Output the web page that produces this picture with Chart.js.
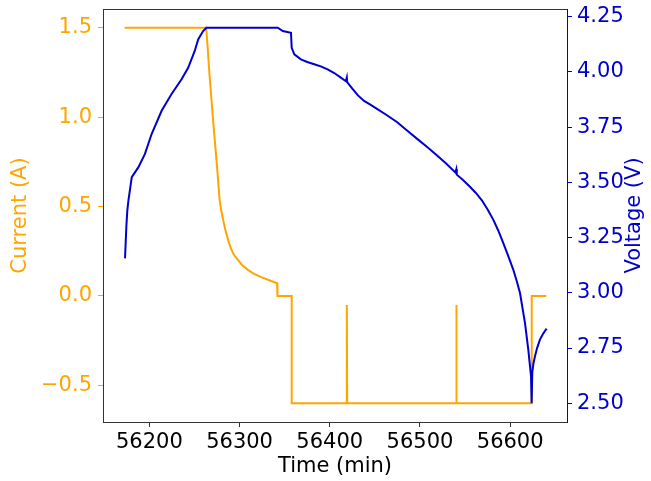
<!DOCTYPE html>
<html><head><meta charset="utf-8">
<script src="https://cdn.jsdelivr.net/npm/chart.js@4/dist/chart.umd.min.js"></script>
<style>html,body{margin:0;padding:0;background:#fff;} #wrap{width:651px;height:481px;}</style>
</head><body><div id="wrap"><canvas id="c" width="651" height="481"></canvas></div>
<script>
// ---- data ----
const currentTime = [56172.5, 56263, 56264.5, 56266.5, 56268.8, 56271.5, 56275, 56277.9, 56279.8, 56281.7, 56284.5, 56287.2, 56290, 56292.7, 56295.5, 56298.2, 56303, 56309.2, 56316, 56324, 56333, 56341.6, 56342, 56357.8, 56357.8, 56418.9, 56418.9, 56419.3, 56540.3, 56540.3, 56540.7, 56623.9, 56623.9, 56640];
const currentValues = [1.5, 1.5, 1.40, 1.25, 1.10, 0.93, 0.725, 0.539, 0.475, 0.427, 0.365, 0.315, 0.272, 0.240, 0.218, 0.202, 0.172, 0.146, 0.124, 0.105, 0.088, 0.071, 0.0, 0.0, -0.6, -0.6, -0.05, -0.6, -0.6, -0.05, -0.6, -0.6, 0.0, 0.0];
const voltageTime = [56173, 56174.5, 56175.5, 56176.8, 56180.5, 56187.9, 56195.1, 56202.5, 56213.6, 56224.6, 56235.7, 56243, 56250.3, 56254.1, 56259.6, 56263.2, 56342.4, 56347.9, 56357, 56357.8, 56360.7, 56368, 56375, 56382.8, 56390, 56397.6, 56405, 56412.3, 56417.8, 56418.9, 56419.3, 56425, 56431, 56438, 56445, 56452.8, 56463, 56474.8, 56485, 56496.9, 56508, 56519, 56529, 56539.2, 56540.3, 56540.8, 56548, 56555.7, 56562, 56568.6, 56575, 56581.5, 56587, 56592.5, 56598, 56603.5, 56607.5, 56610.9, 56616.4, 56620.1, 56623.1, 56623.8, 56624.5, 56625.8, 56627.5, 56630, 56633, 56636.5, 56640.4];
const voltageValues = [3.156, 3.30, 3.37, 3.419, 3.524, 3.569, 3.629, 3.719, 3.824, 3.900, 3.967, 4.019, 4.095, 4.147, 4.185, 4.2, 4.2, 4.185, 4.177, 4.109, 4.080, 4.057, 4.045, 4.035, 4.025, 4.012, 3.995, 3.974, 3.958, 3.975, 3.954, 3.925, 3.895, 3.869, 3.852, 3.832, 3.805, 3.772, 3.737, 3.697, 3.660, 3.622, 3.585, 3.545, 3.560, 3.535, 3.510, 3.479, 3.452, 3.419, 3.377, 3.329, 3.280, 3.224, 3.165, 3.104, 3.050, 2.999, 2.864, 2.743, 2.623, 2.5, 2.638, 2.680, 2.713, 2.752, 2.788, 2.815, 2.838];
const timeTicks = [56200, 56300, 56400, 56500, 56600];
const currentTicks = [-0.5, 0.0, 0.5, 1.0, 1.5];
const voltageTicks = [2.50, 2.75, 3.00, 3.25, 3.50, 3.75, 4.00, 4.25];

const ORANGE = '#FFA500';
const BLUE = '#0000CD';
const SPINE = '#333333';
const FONT = "'DejaVu Sans'";

Chart.defaults.font.family = FONT;
Chart.defaults.font.size = 21;

const fmt = (v, d) => (v < 0 ? '\u2212' : '') + Math.abs(v).toFixed(d);

const framePlugin = {
  id: 'frame',
  beforeDraw(chart) {
    const c = chart.ctx;
    c.save(); c.fillStyle = '#fff'; c.fillRect(0, 0, chart.width, chart.height); c.restore();
  },
  afterDraw(chart) {
    const c = chart.ctx, a = chart.chartArea;
    c.save();
    c.strokeStyle = SPINE; c.lineWidth = 1;
    c.beginPath(); c.moveTo(a.left, a.top + 0.5); c.lineTo(a.right, a.top + 0.5); c.stroke();
    c.translate(635, (a.top + a.bottom) / 2);
    c.rotate(-Math.PI / 2);
    c.fillStyle = BLUE; c.font = '21px ' + FONT;
    c.textAlign = 'center'; c.textBaseline = 'middle';
    c.fillText('Voltage (V)', 0, 0);
    c.restore();
  }
};

const noPadY = s => { s.paddingTop = 0; s.paddingBottom = 0; };

new Chart(document.getElementById('c'), {
  type: 'line',
  data: {
    datasets: [
      { label: 'Voltage', data: voltageTime.map((t, i) => ({x: t, y: voltageValues[i]})), yAxisID: 'yR',
        borderColor: BLUE, borderWidth: 2, pointRadius: 0, tension: 0, fill: false, order: 0 },
      { label: 'Current', data: currentTime.map((t, i) => ({x: t, y: currentValues[i]})), yAxisID: 'yL',
        borderColor: ORANGE, borderWidth: 2, pointRadius: 0, tension: 0, fill: false, order: 1 }
    ]
  },
  options: {
    responsive: false, animation: false, devicePixelRatio: 1,
    layout: { padding: { top: 9, left: 0, right: 0, bottom: 0 } },
    plugins: { legend: { display: false }, tooltip: { enabled: false } },
    scales: {
      x: {
        type: 'linear', position: 'bottom', min: 56148.6, max: 56663,
        afterFit: s => { s.height = 59; s.paddingLeft = 0; s.paddingRight = 0; },
        afterBuildTicks: s => { s.ticks = timeTicks.map(v => ({value: v})); },
        ticks: { color: '#000', padding: 3, maxRotation: 0, autoSkip: false, callback: v => String(v) },
        grid: { drawOnChartArea: false, drawTicks: true, tickLength: 5, color: SPINE },
        border: { display: true, color: SPINE, width: 1 },
        title: { display: true, text: 'Time (min)', color: '#000', padding: { top: 0, bottom: 2 } }
      },
      yL: {
        type: 'linear', position: 'left', min: -0.705, max: 1.605,
        afterFit: s => { s.width = 103; noPadY(s); },
        afterBuildTicks: s => { s.ticks = currentTicks.map(v => ({value: v})); },
        ticks: { color: ORANGE, padding: 6, autoSkip: false, callback: v => fmt(v, 1) },
        grid: { drawOnChartArea: false, drawTicks: true, tickLength: 5, color: ORANGE },
        border: { display: true, color: SPINE, width: 1 },
        title: { display: true, text: 'Current (A)', color: ORANGE, padding: { top: 8, bottom: 0 } }
      },
      yR: {
        type: 'linear', position: 'right', min: 2.415, max: 4.285,
        afterFit: s => { s.width = 84; noPadY(s); },
        afterBuildTicks: s => { s.ticks = voltageTicks.map(v => ({value: v})); },
        ticks: { color: BLUE, padding: 5, autoSkip: false, callback: v => fmt(v, 2) },
        grid: { drawOnChartArea: false, drawTicks: true, tickLength: 5, color: BLUE },
        border: { display: true, color: BLUE, width: 1 },
        title: { display: false }
      }
    }
  },
  plugins: [framePlugin]
});
</script>
</body></html>
